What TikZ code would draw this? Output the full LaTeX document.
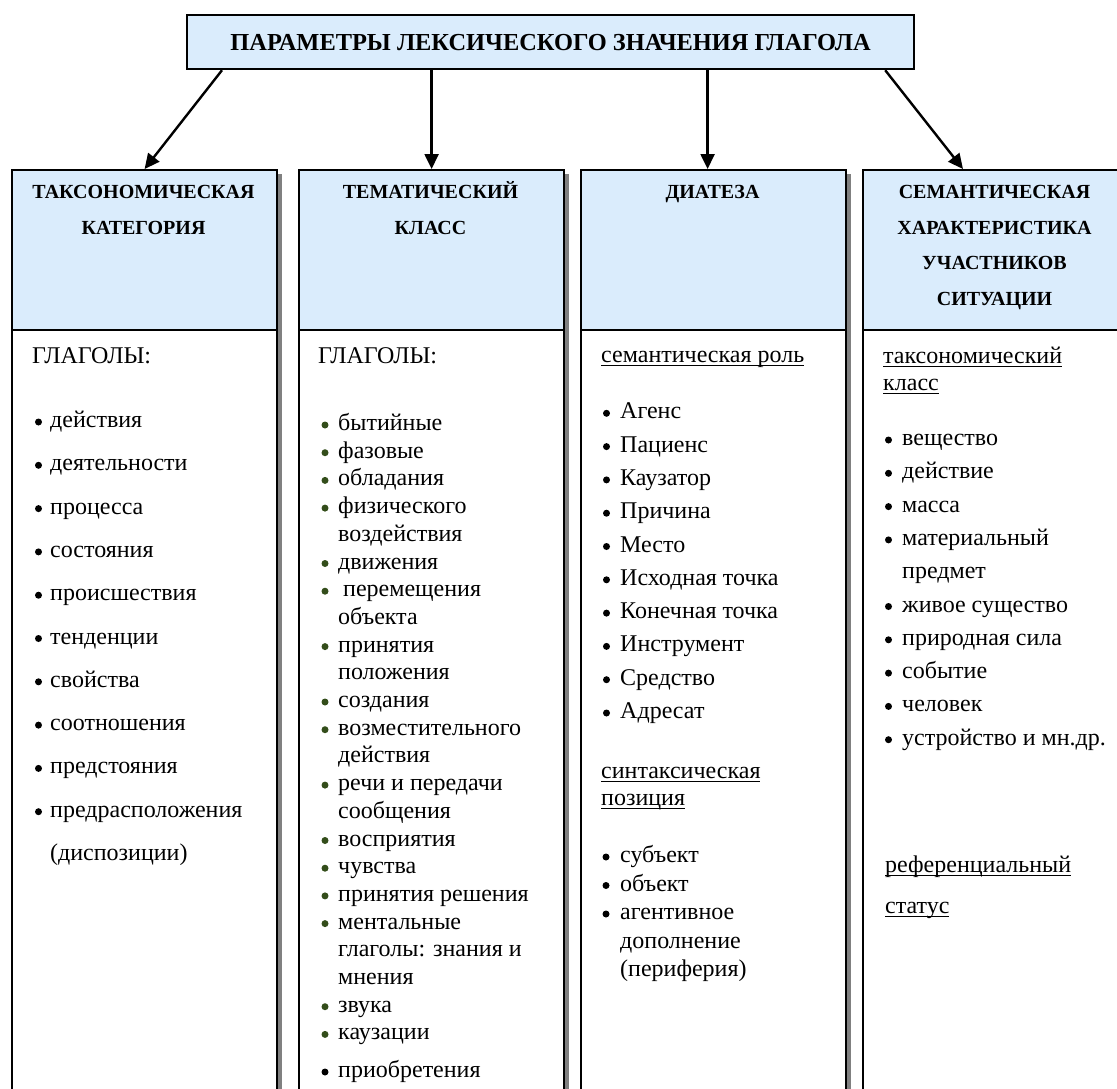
\documentclass[tikz,border=0pt]{standalone}
\usepackage{fontspec}
\setmainfont{Liberation Serif}
\usetikzlibrary{arrows.meta,calc}
\definecolor{hdrblue}{RGB}{218,236,252}
\definecolor{shadowgray}{RGB}{128,128,128}
\definecolor{bulgreen}{RGB}{51,77,26}
\newcommand\uln[1]{\setbox0\hbox{#1}\rlap{\rule[-3.5pt]{\wd0}{1.5pt}}\box0}
\tikzset{
  frame/.style={draw=black, line width=2.2pt},
  hdr/.style={frame, fill=hdrblue, minimum width=265pt, minimum height=160pt, anchor=north west, inner sep=0pt},
  bodybox/.style={frame, fill=white, minimum width=265pt, minimum height=771pt, anchor=north west, inner sep=0pt},
  shadowbar/.style={fill=shadowgray},
  htxt/.style={font=\fontsize{20}{24}\selectfont\bfseries, anchor=base, inner sep=0pt},
  ttxt/.style={font=\fontsize{24.4}{28}\selectfont\bfseries},
  btxt/.style={font=\fontsize{24}{28}\selectfont, anchor=base west, inner sep=0pt},
  arr/.style={line width=2.4pt, -{Triangle[length=15pt,width=14pt]}},
}
\begin{document}
\begin{tikzpicture}[x=1pt,y=-1pt]
\useasboundingbox (0,0) rectangle (1117,1088);
% shadows
\fill[shadowbar] (276,174) rectangle (282,1100);
\fill[shadowbar] (563,174) rectangle (569,1100);
\fill[shadowbar] (845,174) rectangle (851,1100);
% top box
\node[frame, fill=hdrblue, minimum width=727pt, minimum height=54pt, anchor=north west, inner sep=0pt, ttxt] (top) at (186,14) {ПАРАМЕТРЫ ЛЕКСИЧЕСКОГО ЗНАЧЕНИЯ ГЛАГОЛА};
% columns
\node[hdr] (h1) at (11,169) {};
\node[hdr] (h2) at (298,169) {};
\node[hdr] (h3) at (580,169) {};
\node[hdr] (h4) at (862,169) {};
\node[bodybox] (b1) at (11,329) {};
\node[bodybox] (b2) at (298,329) {};
\node[bodybox] (b3) at (580,329) {};
\node[bodybox] (b4) at (862,329) {};
% arrows
\draw[arr] ($(top.south west)+(36,0)$) -- (h1.north);
\draw[arr] (top.south -| h2.north) -- (h2.north);
\coordinate (e3) at ($(h3.north)+(-6,0)$);
\draw[arr] (e3 |- top.south) -- (e3);
\coordinate (e4) at ($(h4.north west)+(101,0)$);
\draw[arr] ($(top.south east)+(-30,0)$) -- (e4);
% header texts
\node[htxt] (h1a) at (143.5,198.6) {ТАКСОНОМИЧЕСКАЯ};
\node[htxt] (h1b) at (143.5,234.6) {КАТЕГОРИЯ};
\node[htxt] (h2a) at (430.5,198.6) {ТЕМАТИЧЕСКИЙ};
\node[htxt] (h2b) at (430.5,234.6) {КЛАСС};
\node[htxt] (h3a) at (712.5,198.6) {ДИАТЕЗА};
\node[htxt] (h4a) at (994.5,198.6) {СЕМАНТИЧЕСКАЯ};
\node[htxt] (h4b) at (994.5,234.1) {ХАРАКТЕРИСТИКА};
\node[htxt] (h4c) at (994.5,269.6) {УЧАСТНИКОВ};
\node[htxt] (h4d) at (994.5,305.1) {СИТУАЦИИ};
% column 1
\node[btxt] (c1g) at (32,363) {ГЛАГОЛЫ:};
\foreach \b/\t [count=\i from 0] in {1/действия,1/деятельности,1/процесса,1/состояния,1/происшествия,1/тенденции,1/свойства,1/соотношения,1/предстояния,1/предрасположения,0/(диспозиции)} {
  \node[btxt] (c1l\i) at (50,427.5+43.3*\i) {\t};
  \ifnum\b=1 \fill (38.5,422+43.3*\i) circle (3.5pt); \fi
}
% column 2
\node[btxt] (c2g) at (318,363) {ГЛАГОЛЫ:};
\foreach \b/\t [count=\i from 0] in {1/бытийные,1/фазовые,1/обладания,1/физического,0/воздействия,1/движения,1/\hspace*{5pt}перемещения,0/объекта,1/принятия,0/положения,1/создания,1/возместительного,0/действия,1/речи и передачи,0/сообщения,1/восприятия,1/чувства,1/принятия решения,1/ментальные,0/глаголы: знания и,0/мнения,1/звука,1/каузации} {
  \node[btxt] (c2l\i) at (338,430.5+27.7*\i) {\t};
  \ifnum\b=1 \fill[bulgreen] (325,425+27.7*\i) circle (3.5pt); \fi
}
\node[btxt] (c2last) at (338,1077.5) {приобретения};
\fill (325,1072) circle (3.5pt);
% column 3
\node[btxt] (c3h) at (601,362.5) {\uln{семантическая роль}};
\foreach \t [count=\i from 0] in {Агенс,Пациенс,Каузатор,Причина,Место,Исходная точка,Конечная точка,Инструмент,Средство,Адресат} {
  \node[btxt] (c3l\i) at (620,418.8+33.3*\i) {\t};
  \fill (606.5,413.3+33.3*\i) circle (3.5pt);
}
\node[btxt] (c3s1) at (601,778.5) {\uln{синтаксическая}};
\node[btxt] (c3s2) at (601,805.5) {\uln{позиция}};
\foreach \b/\t [count=\i from 0] in {1/субъект,1/объект,1/агентивное,0/дополнение,0/(периферия)} {
  \node[btxt] (c3m\i) at (620,862.5+28.5*\i) {\t};
  \ifnum\b=1 \fill (606,857+28.5*\i) circle (3.5pt); \fi
}
% column 4
\node[btxt] (c4h1) at (883,363.5) {\uln{таксономический}};
\node[btxt] (c4h2) at (883,390.5) {\uln{класс}};
\foreach \b/\t [count=\i from 0] in {1/вещество,1/действие,1/масса,1/материальный,0/предмет,1/живое существо,1/природная сила,1/событие,1/человек,1/устройство и мн.др.} {
  \node[btxt] (c4l\i) at (902,445.5+33.3*\i) {\t};
  \ifnum\b=1 \fill (888.5,440+33.3*\i) circle (3.5pt); \fi
}
\node[btxt] (c4r1) at (885,872.5) {\uln{референциальный}};
\node[btxt] (c4r2) at (885,913.5) {\uln{статус}};
\end{tikzpicture}
\end{document}
